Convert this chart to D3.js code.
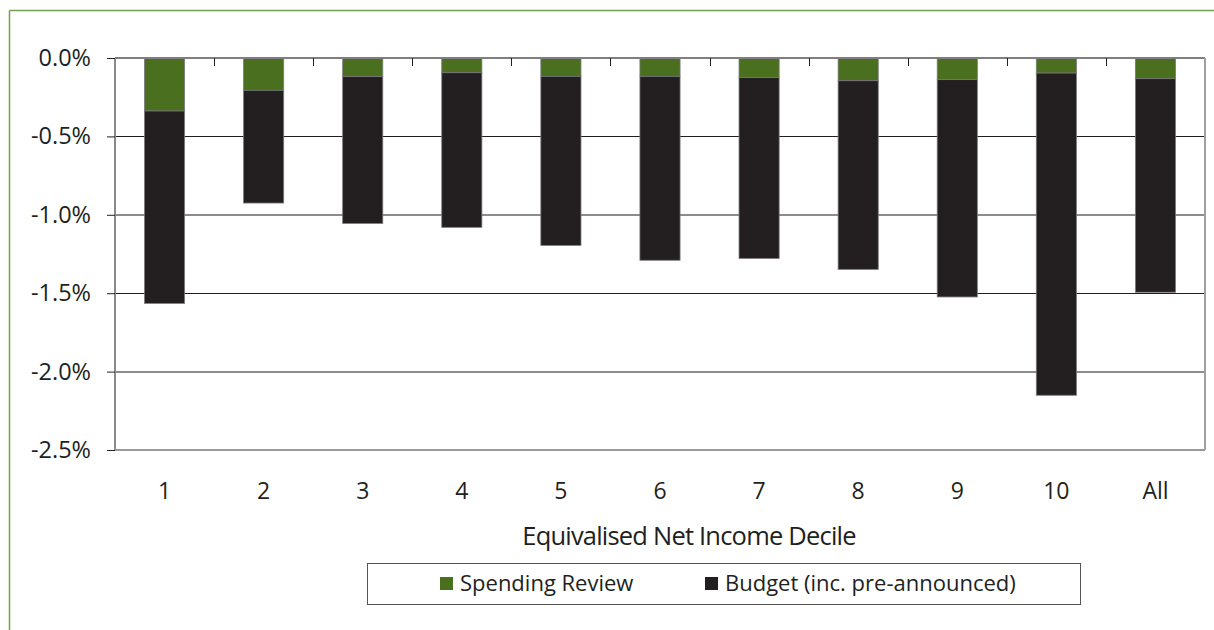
<!DOCTYPE html>
<html>
<head>
<meta charset="utf-8">
<script src="https://cdn.jsdelivr.net/npm/d3@7"></script>
<style>
  html, body { margin: 0; padding: 0; background: #fff; }
  svg { display: block; }
  text { font-family: "Open Sans", "Noto Sans", sans-serif; fill: #231f20; }
</style>
</head>
<body>
<svg id="chart" width="1214" height="630"></svg>
<script>
// ---- data ----
const categories = ["1", "2", "3", "4", "5", "6", "7", "8", "9", "10", "All"];
const spendingReview = [-0.338, -0.206, -0.119, -0.094, -0.117, -0.117, -0.125, -0.145, -0.138, -0.096, -0.132];
const budget = [-1.227, -0.719, -0.936, -0.986, -1.078, -1.173, -1.153, -1.203, -1.386, -2.055, -1.362];
const yTicks = [0, -0.5, -1.0, -1.5, -2.0, -2.5];
const seriesNames = ["Spending Review", "Budget (inc. pre-announced)"];
const seriesColors = ["#4a6f1f", "#231f20"];
const xTitle = "Equivalised Net Income Decile";

// ---- layout ----
const svg = d3.select("#chart");
const W = 1214, H = 630;
const plot = { left: 115, right: 1205, top: 58, bottom: 450 };
const FONT = "'Open Sans', 'Noto Sans', sans-serif";

// outer frame (green)
svg.append("line").attr("x1", 9.5).attr("x2", W).attr("y1", 10.5).attr("y2", 10.5)
  .attr("stroke", "#76a04b").attr("stroke-width", 1.5);
svg.append("line").attr("x1", 9.5).attr("x2", 9.5).attr("y1", 10.5).attr("y2", H)
  .attr("stroke", "#76a04b").attr("stroke-width", 1.5);

const x = d3.scaleBand().domain(categories).range([plot.left, plot.right]).paddingInner(0).paddingOuter(0);
const y = d3.scaleLinear().domain([-2.5, 0]).range([plot.bottom, plot.top]);

// gridlines
const g = svg.append("g");
yTicks.forEach((t, i) => {
  if (t === 0 || t === -2.5) return;
  const dark = (i % 2 === 1);
  g.append("line")
    .attr("x1", plot.left).attr("x2", plot.right)
    .attr("y1", Math.round(y(t)) + (dark ? 0.5 : 0)).attr("y2", Math.round(y(t)) + (dark ? 0.5 : 0))
    .attr("stroke", dark ? "#231f20" : "#8c8c8c")
    .attr("stroke-width", dark ? 1 : 2);
});

// stacked bars
const stackData = categories.map((c, i) => ({ cat: c, sr: spendingReview[i], bu: budget[i] }));
const series = d3.stack().keys(["sr", "bu"]).offset(d3.stackOffsetDiverging)(stackData);
const barW = x.bandwidth() * 0.405;
series.forEach((s, si) => {
  svg.append("g").selectAll("rect").data(s).join("rect")
    .attr("x", d => x(d.data.cat) + (x.bandwidth() - barW) / 2)
    .attr("width", barW)
    .attr("y", d => y(Math.max(d[0], d[1])))
    .attr("height", d => Math.abs(y(d[0]) - y(d[1])))
    .attr("fill", seriesColors[si])
    .attr("stroke", "#7a7a7a")
    .attr("stroke-width", 0.8);
});

// frame axes (grey)
svg.append("line").attr("x1", plot.left).attr("x2", plot.right).attr("y1", plot.top).attr("y2", plot.top)
  .attr("stroke", "#7f7f7f").attr("stroke-width", 2);
svg.append("line").attr("x1", plot.left).attr("x2", plot.right).attr("y1", plot.bottom).attr("y2", plot.bottom)
  .attr("stroke", "#9a9a9a").attr("stroke-width", 2);
svg.append("line").attr("x1", plot.left).attr("x2", plot.left).attr("y1", plot.top).attr("y2", plot.bottom)
  .attr("stroke", "#8a8a8a").attr("stroke-width", 2);
svg.append("line").attr("x1", plot.right).attr("x2", plot.right).attr("y1", plot.top).attr("y2", plot.bottom)
  .attr("stroke", "#a0a0a0").attr("stroke-width", 2);

// y axis
const yAxis = d3.axisLeft(y).tickValues(yTicks).tickSize(8).tickPadding(16)
  .tickFormat(d => (d < 0 ? "-" : "") + d3.format(".1f")(Math.abs(d)) + "%");
const yg = svg.append("g").attr("transform", `translate(${plot.left},0)`).call(yAxis);
yg.select(".domain").remove();
yg.selectAll(".tick line").attr("stroke", "#231f20");
yg.selectAll(".tick text").attr("font-size", 23.5).attr("fill", "#231f20").attr("font-family", FONT);

// x ticks at band boundaries pointing down from the zero line
const boundaries = categories.slice(1).map(c => x(c));
svg.append("g").selectAll("line").data(boundaries).join("line")
  .attr("x1", d => Math.round(d) + 0.5).attr("x2", d => Math.round(d) + 0.5)
  .attr("y1", plot.top).attr("y2", plot.top + 8)
  .attr("stroke", "#231f20").attr("stroke-width", 1);

// x labels
const xAxis = d3.axisBottom(x).tickSize(0).tickPadding(0);
const xg = svg.append("g").attr("transform", `translate(0,${plot.bottom + 41})`).call(xAxis);
xg.select(".domain").remove();
xg.selectAll(".tick text").attr("font-size", 23).attr("fill", "#231f20")
  .attr("font-family", FONT).attr("dy", "0.35em");

// x title
svg.append("text").attr("x", 689).attr("y", 545).attr("text-anchor", "middle")
  .attr("font-size", 25.5).attr("font-family", FONT)
  .attr("letter-spacing", -0.8)
  .text(xTitle);

// legend
const lg = svg.append("g");
lg.append("rect").attr("x", 367.5).attr("y", 563.5).attr("width", 713).attr("height", 41)
  .attr("fill", "#fff").attr("stroke", "#555").attr("stroke-width", 1);
const legendX = [440, 705];
seriesNames.forEach((n, i) => {
  lg.append("rect").attr("x", legendX[i]).attr("y", 577).attr("width", 13).attr("height", 13)
    .attr("fill", seriesColors[i]);
  lg.append("text").attr("x", legendX[i] + 20).attr("y", 591)
    .attr("font-size", 22).attr("font-family", FONT)
    .text(n);
});
</script>
</body>
</html>
